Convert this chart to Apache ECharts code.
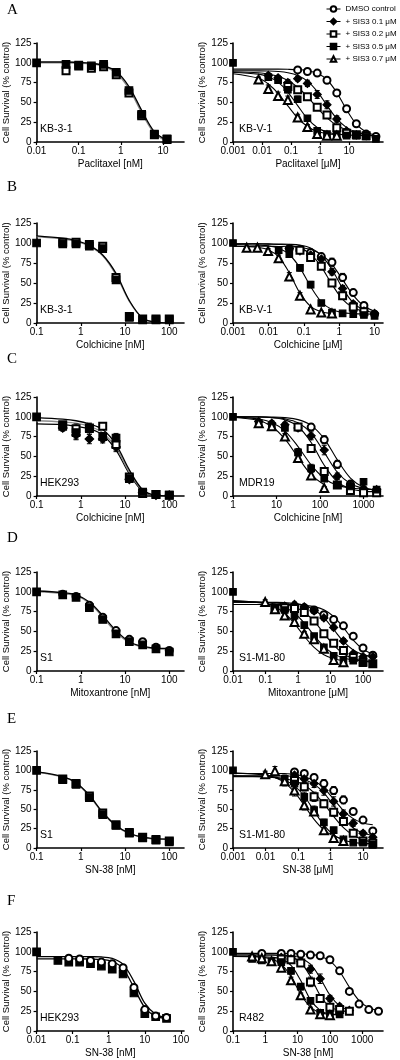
<!DOCTYPE html>
<html><head><meta charset="utf-8">
<script src="https://cdn.jsdelivr.net/npm/echarts@6/dist/echarts.min.js"></script>
<style>html,body{margin:0;padding:0;background:#fff}#c{width:400px;height:1060px}</style>
</head><body><div id="c"></div>
<script>
// ---------- tick labels ----------
const yTicks = [0, 25, 50, 75, 100, 125];
const A_L_xticks = [0.01, 0.1, 1, 10];
const B_L_xticks = [0.1, 1, 10, 100];
const C_L_xticks = [0.1, 1, 10, 100];
const D_L_xticks = [0.1, 1, 10, 100];
const E_L_xticks = [0.1, 1, 10, 100];
const F_L_xticks = [0.01, 0.1, 1, 10, 100];
const A_R_xticks = [0.001, 0.01, 0.1, 1, 10];
const B_R_xticks = [0.001, 0.01, 0.1, 1, 10];
const C_R_xticks = [1, 10, 100, 1000];
const D_R_xticks = [0.01, 0.1, 1, 10, 100];
const E_R_xticks = [0.001, 0.01, 0.1, 1, 10];
const F_R_xticks = [0.1, 1, 10, 100, 1000];
const legendNames = ['DMSO control', '+ SIS3 0.1 μM', '+ SIS3 0.2 μM', '+ SIS3 0.5 μM', '+ SIS3 0.7 μM'];

// ---------- A ----------
const A_L_dose   = [0.01, 0.05, 0.1, 0.2, 0.39, 0.78, 1.56, 3.125, 6.25, 12.5];
const A_L_filled = [100, 98, 97, 96, 98, 88, 65, 35, 10, 4];
const A_L_open   = [null, 90, 96, 93, 95, 85, 62, 33, 9, 3];
const A_L_fitA   = [101, 101, 100.5, 99.5, 96.5, 89, 70, 40, 13, 2];
const A_L_fitB   = [100, 100, 99.5, 98.5, 95.5, 87, 67, 37, 11, 1];

const A_R_dose = [0.001, 0.0076, 0.0165, 0.0359, 0.078, 0.170, 0.368, 0.801, 1.74, 3.79, 8.26, 17.9, 39.0, 84.9];
const A_R_dmso = [null, null, null, null, null, 91, 89, 87, 78, 62, 42, 23, 10, 7];
const A_R_s01  = [null, null, 84, 81, 75, 80, 74, 60, 47, 29, 14, 9, 8, null];
const A_R_s02  = [null, null, null, null, 70, 66, 57, 44, 34, 18, 11, 9, 8, null];
const A_R_s05  = [100, null, 82, 78, 66, 54, 30, 14, 10, 9, 8, 8, 7, 4];
const A_R_s07  = [null, 79, 67, 58, 53, 31, 19, 10, 8, 8, null, null, null, null];
const A_R_err_dmso = [null, null, null, null, null, 2, 2, 3, 3, 4, 4, 3, 2, 1];
const A_R_err_s01  = [null, null, 3, 3, 4, 3, 4, 5, 5, 4, 3, 2, 1, null];
const A_R_err_s02  = [null, null, null, null, 5, 4, 4, 4, 4, 3, 2, 2, 1, null];
const A_R_err_s05  = [0, null, 3, 3, 4, 4, 3, 2, 2, 2, 1, 1, 1, 1];
const A_R_err_s07  = [null, 3, 5, 5, 5, 4, 3, 2, 2, 1, null, null, null, null];
const A_R_fit_dmso = [92, 92, 92, 92, 91.8, 91.3, 90.1, 86.7, 78.6, 62.4, 40.6, 22.5, 12.7, 8.5];
const A_R_fit_s01  = [90, 89.8, 89.6, 89.0, 87.5, 84.1, 76.9, 63.9, 46.1, 29.4, 18.2, 12.5, 9.9, null];
const A_R_fit_s02  = [88.7, 87.4, 85.8, 82.9, 77.6, 69.1, 57.1, 43.2, 30.5, 21.1, 15.1, 11.7, 9.9, null];
const A_R_fit_s05  = [87.8, 85.7, 82.5, 75.6, 63.1, 45.9, 29.4, 18.4, 12.5, 9.9, 8.9, 8.4, 8.2, 8.1];
const A_R_fit_s07  = [86.2, 80.4, 73.3, 61.4, 45.6, 30.3, 19.6, 13.5, 10.5, 9.1, null, null, null, null];

// ---------- B ----------
const B_L_dose   = [0.1, 0.39, 0.78, 1.56, 3.125, 6.25, 12.5, 25, 50, 100];
const B_L_filled = [100, 99, 99, 96, 93, 54, 7, 4, 4, 4];
const B_L_open   = [null, 101, 101, 98, 96, 57, 8, 5, 5, 5];
const B_L_fitA   = [109, 106, 103, 97, 85, 62, 28, 6, 1, 0];
const B_L_fitB   = [108, 105, 102, 96, 84, 60, 27, 6, 1, 0];

const B_R_dose = [0.001, 0.00244, 0.0049, 0.0098, 0.0195, 0.039, 0.078, 0.156, 0.3125, 0.625, 1.25, 2.5, 5, 10];
const B_R_dmso = [null, null, null, null, null, 93, 92, 88, 83, 76, 57, 38, 22, 11];
const B_R_s01  = [null, null, null, null, null, 93, 90, 85, 80, 64, 43, 24, 15, 12];
const B_R_s02  = [null, null, null, null, null, null, 91, 82, 71, 50, 34, 20, 14, null];
const B_R_s05  = [100, null, null, null, 91, 86, 69, 48, 25, 13, 12, 11, 10, 9];
const B_R_s07  = [null, 94, 94, 90, 81, 58, 34, 17, 13, 12, null, null, null, null];
const B_R_err_dmso = [null, null, null, null, null, 2, 2, 3, 4, 5, 5, 4, 3, 2];
const B_R_err_s01  = [null, null, null, null, null, 2, 3, 3, 4, 4, 4, 3, 2, 2];
const B_R_err_s02  = [null, null, null, null, null, null, 3, 4, 4, 4, 3, 3, 2, null];
const B_R_err_s05  = [0, null, null, null, 2, 3, 4, 4, 3, 2, 2, 1, 1, 1];
const B_R_err_s07  = [null, 2, 2, 3, 4, 5, 4, 2, 2, 1, null, null, null, null];
const B_R_fit_dmso = [96, 96, 96, 95.9, 95.7, 95.4, 94.4, 91.8, 85.7, 73.3, 54.2, 34.6, 21.3, 14.7];
const B_R_fit_s01  = [99, 99, 99, 98.9, 98.7, 98.4, 97.3, 93.8, 84.5, 66.9, 43.3, 25.2, 16.2, 12.8];
const B_R_fit_s02  = [99, 99, 98.9, 98.6, 98.2, 97.1, 93.9, 86.1, 70.2, 48.3, 29.6, 19.1, 14.7, null];
const B_R_fit_s05  = [98, 97.9, 97.5, 96.5, 93.5, 85.6, 68.9, 45.5, 26.5, 16.8, 13.0, 11.7, 11.2, 11.1];
const B_R_fit_s07  = [96, 95.6, 94.7, 91.7, 82.8, 62.8, 37.3, 20.7, 14, 11.9, null, null, null, null];

// ---------- C ----------
const C_L_dose    = [0.1, 0.39, 0.78, 1.56, 3.125, 6.25, 12.5, 25, 50, 100];
const C_L_filled  = [100, 88, 80, 85, 75, 73, 22, 5, 2, 1];
const C_L_open    = [null, 90, 85, 86, 88, 65, 24, 3, 2, 1];
const C_L_diamond = [null, 86, 77, 72, 72, 62, 21, 4, 1, 1];
const C_L_err_filled  = [0, 4, 8, 7, 5, 6, 3, 2, 1, 1];
const C_L_err_open    = [null, 4, 6, 5, 4, 7, 3, 2, 1, 1];
const C_L_err_diamond = [null, 4, 6, 6, 5, 6, 3, 2, 1, 1];
const C_L_fitA    = [99, 97, 95, 91, 84, 65, 33, 8, 1, 0];
const C_L_fitB    = [95, 93.5, 92, 88, 80, 61, 30, 7, 0.5, 0];
const C_L_fitC    = [91, 90, 88, 85, 77, 58, 28, 6, 0.5, 0];

const C_R_dose = [1, 3.9, 7.8, 15.6, 31.25, 62.5, 125, 250, 500, 1000, 2000];
const C_R_dmso = [null, null, null, null, null, 87, 71, 40, 15, 8, 6];
const C_R_s01  = [null, 94, 92, 90, 86, 76, 58, 25, 14, 9, 8];
const C_R_s02  = [null, null, null, null, 87, 60, 31, 14, 7, 4, 4];
const C_R_s05  = [100, 92, 88, 86, 55, 35, 22, 14, 12, 18, 8];
const C_R_s07  = [null, 92, 88, 75, 48, 26, 10, null, null, null, null];
const C_R_err_dmso = [null, null, null, null, null, 4, 5, 5, 4, 3, 2];
const C_R_err_s01  = [null, 3, 3, 3, 4, 5, 6, 4, 3, 2, 2];
const C_R_err_s02  = [null, null, null, null, 4, 5, 4, 3, 2, 2, 1];
const C_R_err_s05  = [0, 3, 4, 3, 5, 5, 3, 3, 3, 4, 2];
const C_R_err_s07  = [null, 3, 4, 4, 5, 4, 2, null, null, null, null];
const C_R_fit_dmso = [100, 100, 99.8, 98.9, 96.4, 89.2, 72.2, 45.6, 22.7, 11.2, 7.0];
const C_R_fit_s01  = [100, 99.8, 99.2, 97.5, 92.4, 79.3, 55.1, 30, 15.5, 9.8, 7.9];
const C_R_fit_s02  = [100, 99.7, 98.8, 96.1, 87.7, 67.6, 38.8, 18, 9.1, 6.2, 5.5];
const C_R_fit_s05  = [99.6, 97.2, 92.7, 82, 62.4, 39.2, 22.1, 13.5, 10, 8.7, 8.2];
const C_R_fit_s07  = [99.4, 95.3, 87.8, 72.1, 48.6, 26.9, 14.1, null, null, null, null];

// ---------- D ----------
const D_L_dose   = [0.1, 0.39, 0.78, 1.56, 3.125, 6.25, 12.5, 25, 50, 100];
const D_L_filled = [100, 96, 93, 80, 65, 47, 37, 33, 28, 24];
const D_L_open   = [null, 97, 94, 83, 68, 51, 40, 37, 30, 26];
const D_L_fitA   = [101, 99, 96, 87, 70, 51, 37, 31, 29, 28.5];
const D_L_fitB   = [100, 98, 95, 86, 68, 49, 36, 30, 28, 27.5];

const D_R_dose = [0.01, 0.098, 0.195, 0.39, 0.78, 1.56, 3.125, 6.25, 12.5, 25, 50, 100, 200];
const D_R_dmso = [null, null, null, null, null, 80, 77, 71, 65, 57, 44, 29, 20];
const D_R_s01  = [null, null, null, 82, 84, 81, 76, 67, 55, 38, 22, 18, 18];
const D_R_s02  = [null, null, 78, 80, 79, 74, 63, 47, 35, 26, 17, 11, 9];
const D_R_s05  = [100, null, 80, 77, 70, 58, 44, 30, 19, 14, 13, 10, 9];
const D_R_s07  = [null, 87, 78, 70, 62, 47, 40, 28, 14, 11, null, null, null];
const D_R_err_dmso = [null, null, null, null, null, 3, 3, 3, 3, 3, 3, 2, 2];
const D_R_err_s01  = [null, null, null, 3, 3, 3, 3, 3, 3, 3, 2, 2, 2];
const D_R_err_s02  = [null, null, 3, 3, 3, 3, 3, 3, 3, 2, 2, 2, 1];
const D_R_err_s05  = [0, null, 3, 3, 3, 3, 3, 2, 2, 2, 1, 1, 1];
const D_R_err_s07  = [null, 3, 3, 3, 3, 3, 3, 2, 2, 1, null, null, null];
const D_R_fit_dmso = [84, 84, 84, 84, 84, 82.9, 81.3, 77.3, 68.8, 54.7, 39.0, 27.5, 21.4];
const D_R_fit_s01  = [87, 86.9, 86.7, 86.3, 85.2, 82.8, 77.4, 67.3, 52.4, 37.3, 26.5, 20.7, 18.0];
const D_R_fit_s02  = [87, 86.5, 85.8, 84.2, 80.9, 74.2, 62.9, 47.6, 32.6, 21.8, 15.7, 12.5, 11.1];
const D_R_fit_s05  = [87.9, 86.5, 84.6, 80.6, 72.9, 60.5, 44.9, 31, 21.6, 16.5, 14.0, 13, 12.5];
const D_R_fit_s07  = [88.8, 85.4, 81.1, 72.9, 59.9, 43.9, 29.8, 20.5, 15.4, 13.0, null, null, null];

// ---------- E ----------
const E_L_dose   = [0.1, 0.39, 0.78, 1.56, 3.125, 6.25, 12.5, 25, 50, 100];
const E_L_filled = [100, 88, 82, 65, 43, 29, 19, 13, 10, 8];
const E_L_open   = [null, 89, 83, 67, 45, 30, 20, 14, 11, 9];
const E_L_fitA   = [98, 92, 84, 68, 46, 29, 19, 14, 12, 11.5];
const E_L_fitB   = [97.5, 91.5, 83.5, 67, 45, 28.5, 18.5, 13.5, 11.5, 11];

const E_R_dose = [0.001, 0.0098, 0.0195, 0.039, 0.078, 0.156, 0.3125, 0.625, 1.25, 2.5, 5, 10, 20];
const E_R_dmso = [null, null, null, null, 98, 96, 91, 83, 74, 62, 47, 36, 22];
const E_R_s01  = [null, null, null, null, 94, 89, 83, 74, 60, 44, 32, 19, 14];
const E_R_s02  = [null, null, null, null, 87, 79, 66, 57, 46, 34, 19, 9, 6];
const E_R_s05  = [100, null, null, 89, 83, 66, 49, 33, 23, 11, 7, 7, 4];
const E_R_s07  = [null, 95, 99, 86, 74, 55, 47, 23, 13, 9, null, null, null];
const E_R_err_dmso = [null, null, null, null, 3, 3, 4, 5, 5, 5, 4, 3, 2];
const E_R_err_s01  = [null, null, null, null, 4, 4, 5, 6, 6, 5, 4, 3, 2];
const E_R_err_s02  = [null, null, null, null, 5, 5, 6, 5, 5, 4, 3, 2, 2];
const E_R_err_s05  = [0, null, null, 5, 6, 6, 5, 4, 3, 2, 1, 1, 1];
const E_R_err_s07  = [null, 4, 6, 6, 7, 6, 5, 3, 2, 1, null, null, null];
const E_R_fit_dmso = [96, 96, 96, 95.8, 95.1, 92, 86.8, 77.1, 62.9, 48.3, 37.9, 32.3, 29.9];
const E_R_fit_s01  = [93, 93, 93, 92.8, 92.0, 88.3, 82.3, 71.0, 54.6, 37.7, 25.7, 19.2, 16.2];
const E_R_fit_s02  = [92, 91.5, 91, 89.3, 86.5, 80.9, 71.3, 57.1, 40.7, 26.3, 16.4, 10.8, 7.8];
const E_R_fit_s05  = [93, 92, 90.5, 87.2, 80, 66.7, 47.9, 29.4, 16.9, 10.3, 7.2, 6, 5.4];
const E_R_fit_s07  = [96.8, 94.2, 90.8, 84.0, 71.9, 54.8, 36.9, 23.4, 15.5, 11.4, null, null, null];

// ---------- F ----------
const F_L_dose   = [0.01, 0.039, 0.078, 0.156, 0.3125, 0.625, 1.25, 2.5, 5, 10, 20, 40];
const F_L_filled = [100, 89, 87, 87, 85, 82, 78, 72, 48, 22, 18, 16];
const F_L_open   = [null, null, 92, 91, 89, 87, 85, 80, 55, 27, 19, 17];
const F_L_fitA   = [91, 91, 91, 91, 90.9, 90.3, 87.8, 78.4, 54.7, 29.6, 18.7, 15.8];
const F_L_fitB   = [94, 94, 94, 94, 93.8, 93.5, 91.6, 84.1, 62.7, 35.1, 21.2, 17.2];

const F_R_dose = [0.1, 0.39, 0.78, 1.56, 3.125, 6.25, 12.5, 25, 50, 100, 200, 400, 800, 1600, 3200];
const F_R_dmso = [null, null, 98, null, 98, 98, 97, 96, 95, 90, 76, 50, 34, 27, 25];
const F_R_s01  = [null, null, null, null, 93, 91, 88, 78, 66, 41, 31, 26, null, null, null];
const F_R_s02  = [null, null, null, null, 91, 90, 86, 62, 41, 30, 27, 25, null, null, null];
const F_R_s05  = [100, 91, 89, 88, 87, 76, 56, 38, 23, 21, 21, null, null, null, null];
const F_R_s07  = [null, 94, 92, 88, 80, 64, 45, 27, 21, 20, null, null, null, null, null];
const F_R_err_dmso = [null, null, 2, null, 2, 2, 2, 2, 2, 3, 3, 3, 2, 2, 1];
const F_R_err_s01  = [null, null, null, null, 3, 3, 4, 5, 6, 4, 3, 2, null, null, null];
const F_R_err_s02  = [null, null, null, null, 3, 3, 4, 6, 5, 4, 3, 2, null, null, null];
const F_R_err_s05  = [0, 3, 3, 3, 3, 4, 4, 3, 2, 2, 1, null, null, null, null];
const F_R_err_s07  = [null, 2, 3, 3, 4, 4, 3, 3, 2, 1, null, null, null, null, null];
const F_R_fit_dmso = [98, 98, 98, 98, 97.9, 97.7, 97.3, 96.8, 94.5, 88.5, 75.1, 55.4, 38.5, 29.5, 25.9];
const F_R_fit_s01  = [96, 96, 96, 95.9, 95.7, 94.9, 92.2, 84.3, 66.9, 45.4, 31.8, 26.4, null, null, null];
const F_R_fit_s02  = [96, 96, 96, 95.9, 95.3, 93.4, 86.5, 68.7, 44.9, 30.7, 25.8, 24.5, null, null, null];
const F_R_fit_s05  = [94, 94, 93.8, 93.2, 90.9, 83.0, 63.7, 39.6, 26.1, 21.6, 20.4, null, null, null, null];
const F_R_fit_s07  = [94, 93.7, 93.1, 90.9, 84.4, 68.7, 46.3, 30.2, 23.2, 21, null, null, null, null, null];

// ---------- layout / styles ----------
const FONT = "'Liberation Sans', Arial, sans-serif";
const ROW_TOP = [43, 223, 397, 572, 751, 932];
const ROW_H = [99, 100, 99, 99, 97, 99];
const LETTER_TOP = [3, 180, 352, 531, 712, 894];
const LETTERS = ['A', 'B', 'C', 'D', 'E', 'F'];
const SYM = {
  dmso: ['emptyCircle', 7], s01: ['diamond', 8], s02: ['emptyRect', 7], s05: ['rect', 6.5], s07: ['emptyTriangle', 8],
  filled: ['rect', 7.5], open: ['emptyRect', 7], diamond: ['diamond', 8.5], circle: ['emptyCircle', 7]
};
function rightPts(d, f, e) {
  const keys = ['dmso', 's01', 's02', 's05', 's07'];
  return keys.map((k, j) => ({data: d[j], key: k, name: legendNames[j], fit: f[j], err: e[j]}));
}
const panels = [
  {row:0, side:'L', xmin:0.01, xmax:31.6, ticks:A_L_xticks, xname:'Paclitaxel [nM]', cell:'KB-3-1', dose:A_L_dose,
   pts:[{data:A_L_open, key:'open'}, {data:A_L_filled, key:'filled'}], fits:[[A_L_fitB,'#8a8a8a'],[A_L_fitA,'#000']]},
  {row:0, side:'R', xmin:0.001, xmax:148.6, ticks:A_R_xticks, xname:'Paclitaxel [μM]', cell:'KB-V-1', dose:A_R_dose,
   pts:rightPts([A_R_dmso,A_R_s01,A_R_s02,A_R_s05,A_R_s07],[A_R_fit_dmso,A_R_fit_s01,A_R_fit_s02,A_R_fit_s05,A_R_fit_s07],[A_R_err_dmso,A_R_err_s01,A_R_err_s02,A_R_err_s05,A_R_err_s07])},
  {row:1, side:'L', xmin:0.1, xmax:215, ticks:B_L_xticks, xname:'Colchicine [nM]', cell:'KB-3-1', dose:B_L_dose,
   pts:[{data:B_L_open, key:'open'}, {data:B_L_filled, key:'filled'}], fits:[[B_L_fitB,'#8a8a8a'],[B_L_fitA,'#000']]},
  {row:1, side:'R', xmin:0.001, xmax:17.3, ticks:B_R_xticks, xname:'Colchicine [μM]', cell:'KB-V-1', dose:B_R_dose,
   pts:rightPts([B_R_dmso,B_R_s01,B_R_s02,B_R_s05,B_R_s07],[B_R_fit_dmso,B_R_fit_s01,B_R_fit_s02,B_R_fit_s05,B_R_fit_s07],[B_R_err_dmso,B_R_err_s01,B_R_err_s02,B_R_err_s05,B_R_err_s07])},
  {row:2, side:'L', xmin:0.1, xmax:215, ticks:C_L_xticks, xname:'Colchicine [nM]', cell:'HEK293', dose:C_L_dose,
   pts:[{data:C_L_diamond, key:'diamond', err:C_L_err_diamond}, {data:C_L_open, key:'open', err:C_L_err_open}, {data:C_L_filled, key:'filled', err:C_L_err_filled}],
   fits:[[C_L_fitC,'#000'],[C_L_fitB,'#8a8a8a'],[C_L_fitA,'#000']]},
  {row:2, side:'R', xmin:1, xmax:2800, ticks:C_R_xticks, xname:'Colchicine [nM]', cell:'MDR19', dose:C_R_dose,
   pts:rightPts([C_R_dmso,C_R_s01,C_R_s02,C_R_s05,C_R_s07],[C_R_fit_dmso,C_R_fit_s01,C_R_fit_s02,C_R_fit_s05,C_R_fit_s07],[C_R_err_dmso,C_R_err_s01,C_R_err_s02,C_R_err_s05,C_R_err_s07])},
  {row:3, side:'L', xmin:0.1, xmax:215, ticks:D_L_xticks, xname:'Mitoxantrone [nM]', cell:'S1', dose:D_L_dose,
   pts:[{data:D_L_open, key:'circle'}, {data:D_L_filled, key:'filled'}], fits:[[D_L_fitB,'#8a8a8a'],[D_L_fitA,'#000']]},
  {row:3, side:'R', xmin:0.01, xmax:412, ticks:D_R_xticks, xname:'Mitoxantrone [μM]', cell:'S1-M1-80', dose:D_R_dose,
   pts:rightPts([D_R_dmso,D_R_s01,D_R_s02,D_R_s05,D_R_s07],[D_R_fit_dmso,D_R_fit_s01,D_R_fit_s02,D_R_fit_s05,D_R_fit_s07],[D_R_err_dmso,D_R_err_s01,D_R_err_s02,D_R_err_s05,D_R_err_s07])},
  {row:4, side:'L', xmin:0.1, xmax:215, ticks:E_L_xticks, xname:'SN-38 [nM]', cell:'S1', dose:E_L_dose,
   pts:[{data:E_L_open, key:'open'}, {data:E_L_filled, key:'filled'}], fits:[[E_L_fitB,'#8a8a8a'],[E_L_fitA,'#000']]},
  {row:4, side:'R', xmin:0.001, xmax:41.2, ticks:E_R_xticks, xname:'SN-38 [μM]', cell:'S1-M1-80', dose:E_R_dose,
   pts:rightPts([E_R_dmso,E_R_s01,E_R_s02,E_R_s05,E_R_s07],[E_R_fit_dmso,E_R_fit_s01,E_R_fit_s02,E_R_fit_s05,E_R_fit_s07],[E_R_err_dmso,E_R_err_s01,E_R_err_s02,E_R_err_s05,E_R_err_s07])},
  {row:5, side:'L', xmin:0.01, xmax:122, ticks:F_L_xticks, xname:'SN-38 [nM]', cell:'HEK293', dose:F_L_dose,
   pts:[{data:F_L_filled, key:'filled'}, {data:F_L_open, key:'circle'}], fits:[[F_L_fitB,'#000'],[F_L_fitA,'#000']]},
  {row:5, side:'R', xmin:0.1, xmax:4400, ticks:F_R_xticks, xname:'SN-38 [nM]', cell:'R482', dose:F_R_dose,
   pts:rightPts([F_R_dmso,F_R_s01,F_R_s02,F_R_s05,F_R_s07],[F_R_fit_dmso,F_R_fit_s01,F_R_fit_s02,F_R_fit_s05,F_R_fit_s07],[F_R_err_dmso,F_R_err_s01,F_R_err_s02,F_R_err_s05,F_R_err_s07])}
];

function pairs(xs, ys) {
  return xs.map((x, k) => [x, ys[k]]).filter(d => d[1] !== null && d[1] !== undefined);
}
function triples(xs, ys, es) {
  return xs.map((x, k) => [x, ys[k], es[k]]).filter(d => d[1] !== null && d[2] !== null && d[2] > 0);
}
function fmtLog(v) {
  const e = Math.round(Math.log10(v));
  return e < 0 ? Math.pow(10, e).toFixed(-e) : String(Math.round(Math.pow(10, e)));
}
function errRender(params, api) {
  const x = api.value(0), y = api.value(1), e = api.value(2);
  const t = api.coord([x, y + e]), b = api.coord([x, y - e]);
  const w = 2.5, st = {stroke: '#000', lineWidth: 1};
  return {type: 'group', children: [
    {type: 'line', shape: {x1: t[0], y1: t[1], x2: b[0], y2: b[1]}, style: st},
    {type: 'line', shape: {x1: t[0] - w, y1: t[1], x2: t[0] + w, y2: t[1]}, style: st},
    {type: 'line', shape: {x1: b[0] - w, y1: b[1], x2: b[0] + w, y2: b[1]}, style: st}
  ]};
}
const axisText = {fontSize: 10, fontFamily: FONT, color: '#000'};

const option = {
  animation: false, backgroundColor: '#fff',
  grid: [], xAxis: [], yAxis: [], series: [], graphic: [],
  legend: {
    data: legendNames, orient: 'vertical', left: 326, top: 5, padding: 0,
    itemWidth: 14, itemHeight: 7, itemGap: 4.5, selectedMode: false,
    textStyle: {fontSize: 8, fontFamily: FONT, color: '#000'},
    lineStyle: {color: '#000', width: 1, opacity: 1}
  }
};

panels.forEach((p, i) => {
  const top = ROW_TOP[p.row], h = ROW_H[p.row];
  const left = p.side === 'L' ? 34 : 233;
  const isRight = p.side === 'R';
  option.grid.push({left: left, top: top, width: 150, height: h});
  option.xAxis.push({
    type: 'log', logBase: 10, gridIndex: i, min: p.xmin, max: p.xmax,
    name: p.xname, nameLocation: 'middle', nameGap: 17, nameTextStyle: axisText,
    axisLine: {onZero: false, lineStyle: {color: '#000', width: 1.6}},
    axisTick: {length: 3, customValues: p.ticks, lineStyle: {color: '#000', width: 1.2}},
    axisLabel: Object.assign({customValues: p.ticks, formatter: fmtLog, margin: 4}, axisText),
    splitLine: {show: false}, minorTick: {show: false}
  });
  option.yAxis.push({
    type: 'value', gridIndex: i, min: 0, max: 125, interval: 25,
    name: 'Cell Survival (% control)', nameLocation: 'middle', nameGap: 23, nameRotate: 90,
    nameTextStyle: {fontSize: 9.5, fontFamily: FONT, color: '#000'},
    axisLine: {show: true, lineStyle: {color: '#000', width: 1.6}},
    axisTick: {show: true, length: 3, customValues: yTicks, lineStyle: {color: '#000', width: 1.2}},
    axisLabel: Object.assign({customValues: yTicks, margin: 5}, axisText),
    splitLine: {show: false}
  });
  const fits = isRight ? p.pts.map(r => [r.fit, '#000']) : p.fits;
  fits.forEach(([arr, color]) => {
    option.series.push({
      type: 'line', name: 'fit', xAxisIndex: i, yAxisIndex: i, data: pairs(p.dose, arr),
      symbol: 'none', smooth: 0.35, lineStyle: {color: color, width: isRight ? 1.1 : 1.3},
      z: 2, silent: true, clip: false
    });
  });
  p.pts.forEach(r => {
    if (r.err) {
      option.series.push({
        type: 'custom', name: 'err', xAxisIndex: i, yAxisIndex: i, data: triples(p.dose, r.data, r.err),
        encode: {x: 0, y: 1}, renderItem: errRender, z: 2.5, silent: true, clip: false
      });
    }
  });
  p.pts.forEach(r => {
    const s = SYM[r.key];
    option.series.push({
      type: 'line', name: r.name || 'pts', xAxisIndex: i, yAxisIndex: i, data: pairs(p.dose, r.data),
      symbol: s[0], symbolSize: s[1], showSymbol: true, showAllSymbol: true,
      lineStyle: {opacity: 0, width: 0},
      itemStyle: {color: '#000', borderColor: '#000', borderWidth: 1.2},
      z: 3, silent: true, clip: false
    });
  });
  option.graphic.push({
    type: 'text', x: left + 6, y: top + h - 13, z: 10,
    style: {text: p.cell, fontSize: 10.5, fontFamily: FONT, fill: '#000', verticalAlign: 'middle', align: 'left'}
  });
});
LETTERS.forEach((L, r) => {
  option.graphic.push({
    type: 'text', x: 7, y: LETTER_TOP[r], z: 10,
    style: {text: L, fontSize: 15, fontFamily: "'Liberation Serif', 'Times New Roman', serif", fill: '#000', verticalAlign: 'top', align: 'left'}
  });
});

const chart = echarts.init(document.getElementById('c'), null, {renderer: 'canvas'});
chart.setOption(option);
</script></body></html>
